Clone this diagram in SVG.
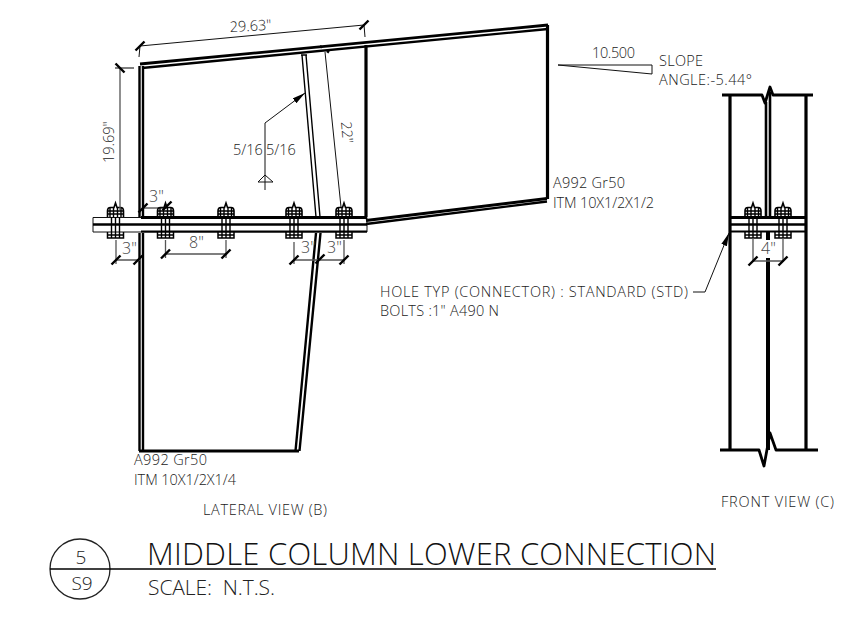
<svg xmlns="http://www.w3.org/2000/svg" width="868" height="620" viewBox="0 0 868 620">
<style>
text{font-family:"Open Sans","Noto Sans","Liberation Sans",sans-serif;font-weight:300;fill:#222;font-size:14.5px}
.d{font-size:16px;fill:#444}
.h{stroke:#000;stroke-width:3.2;fill:none}
.m{stroke:#000;stroke-width:2.400;fill:none}
.t{stroke:#111;stroke-width:1;fill:none}
.g{stroke:#555;stroke-width:1.300;fill:none}
.k{stroke:#000;stroke-width:2.800;fill:none;stroke-linejoin:round}
.p{stroke:#000;stroke-width:2.800;fill:none}
</style>
<defs>
<g id="bolt">
<path d="M-8 217V211Q-8 207.500-5 207.500H-1.500L0 203L1.500 207.500H5Q8 207.500 8 211V217" stroke="#000" stroke-width="1.600" fill="none"/>
<path d="M-8 211H8M-8 214H8M-5.500 208V217M-2 208V217M2 208V217M5.500 208V217M-4 217V238M0 217V238M4 217V238" stroke="#000" stroke-width="1.400" fill="none"/>
<path d="M-8 232V238H8V232M-8 235H8" stroke="#000" stroke-width="1.500" fill="none"/>
</g>
<path id="tick" d="M-4.500 4.500L4.500-4.500" stroke="#000" stroke-width="2.400"/>
<marker id="arrow" markerWidth="14" markerHeight="8" refX="13" refY="3" orient="auto" markerUnits="userSpaceOnUse"><path d="M0 0L13 3L0 6Z" fill="#000"/></marker>
</defs>

<g id="lateral-view">
<path class="m" d="M139.500 66V217M143 66V217M139.500 233V451M143 233V451"/>
<path class="h" d="M139 451H299"/>
<path class="m" d="M295.500 451L316 233M299.500 451L320.500 233"/>
<path class="p" d="M140 64L548 25"/>
<path class="m" d="M142 68L548 29"/>
<path class="h" d="M547.500 25V199"/>
<path class="h" d="M366 45V217"/>
<path class="p" d="M366 220.500L547 198.500"/>
<path class="m" d="M366 224L547 201.500"/>
<path d="M302 55L316 217M306 55L320 217M301 55H307" stroke="#000" stroke-width="1.400" fill="none"/>
<path d="M320 46L322 47.500M327 51L329 52.500" stroke="#000" stroke-width="2.400"/>
</g>
<g id="plate">
<path class="t" d="M93 217.500H367V232H93Z" stroke="#222" stroke-width="1.300"/>
<path d="M141 217.500H367" stroke="#000" stroke-width="3.200"/>
<path d="M93 224.500H367" stroke="#000" stroke-width="2.500"/>
<path d="M141 231.500H367" stroke="#000" stroke-width="2"/>
</g>
<g id="bolts-lateral">
<use href="#bolt" x="115.500"/>
<use href="#bolt" x="165.500"/>
<use href="#bolt" x="226"/>
<use href="#bolt" x="294"/>
<use href="#bolt" x="344"/>
</g>

<g id="front-view">
<path class="k" d="M722 95H762L765 103L770 87L773 95H813"/>
<path class="h" d="M730 95V232M806 95V232M730 232V450M806 232V450"/>
<path d="M766 102V217M770 92V217" stroke="#000" stroke-width="2.600" fill="none"/>
<path d="M768 232V240M768 258V450" stroke="#000" stroke-width="4" fill="none"/>
<path class="k" d="M720 450H759L764 466L770 433L776 450H818"/>
<path d="M730 217.500H806" stroke="#000" stroke-width="3.200"/>
<path d="M730 224.500H806" stroke="#000" stroke-width="2.500"/>
<path d="M730 231.500H806" stroke="#000" stroke-width="2"/>
<use href="#bolt" x="753"/>
<use href="#bolt" x="783"/>
</g>

<g id="connectors">
<path class="t" d="M139 57L140 46L364 25L365 37"/>
<use href="#tick" x="140" y="46"/>
<use href="#tick" x="364" y="25"/>
<path class="g" d="M115 68H134M120 68V210"/>
<use href="#tick" x="120" y="68" transform="rotate(90 120 68)"/>
<path class="t" d="M325 52L341 207"/>
<path class="t" d="M143 208H167"/>
<use href="#tick" x="143" y="208"/>
<use href="#tick" x="167" y="206"/>
<path class="g" d="M116 240V264M116 260H141M165.500 240V258M165.500 254H226M226 240V258M294 242V264M294 260H318M344 240V264M320 260H344"/>
<use href="#tick" x="116" y="260"/>
<use href="#tick" x="138" y="260"/>
<use href="#tick" x="165.500" y="254"/>
<use href="#tick" x="226" y="254"/>
<use href="#tick" x="294" y="260"/>
<use href="#tick" x="320" y="259"/>
<use href="#tick" x="344" y="260"/>
<path class="g" d="M753 238V262M783 238V262M753 261H783"/>
<use href="#tick" x="753" y="261"/>
<use href="#tick" x="783" y="261"/>
<path class="t" d="M265 190V123L305 93" marker-end="url(#arrow)"/>
<path class="t" d="M258 182H273L265 175Z"/>
<path class="t" d="M693 292H705L729 233" marker-end="url(#arrow)"/>
<path class="t" d="M558 65H652V74Z" stroke-width="1.300"/>
</g>

<g id="labels">
<text x="230" y="32" transform="rotate(-3 230 32)">29.63"</text>
<text x="114" y="163" transform="rotate(-90 114 163)">19.69"</text>
<text x="341" y="122" transform="rotate(85 341 122)">22"</text>
<text x="233" y="155">5/16</text>
<text x="266" y="155">5/16</text>
<text class="d" x="149" y="202">3"</text>
<text class="d" x="122" y="254">3"</text>
<text class="d" x="189" y="248">8"</text>
<text class="d" x="301" y="253">3"</text>
<text class="d" x="327" y="253">3"</text>
<text class="d" x="761" y="254">4"</text>
<text x="592" y="58" textLength="43">10.500</text>
<text x="659" y="66" textLength="44">SLOPE</text>
<text x="659" y="85" textLength="93">ANGLE:-5.44°</text>
<text x="553" y="188" textLength="72">A992 Gr50</text>
<text x="553" y="208" textLength="101">ITM 10X1/2X1/2</text>
<text x="380" y="297" textLength="308">HOLE TYP (CONNECTOR) : STANDARD (STD)</text>
<text x="380" y="316" textLength="119">BOLTS :1" A490 N</text>
<text x="134" y="465" textLength="73">A992 Gr50</text>
<text x="134" y="485" textLength="102">ITM 10X1/2X1/4</text>
<text x="203" y="515" textLength="124">LATERAL VIEW (B)</text>
<text x="721" y="507" textLength="113">FRONT VIEW (C)</text>
</g>

<g id="title">
<circle cx="80" cy="569" r="30" fill="none" stroke="#222" stroke-width="1.300"/>
<path d="M50 569H716" stroke="#000" stroke-width="1.300"/>
<text x="81" y="564" text-anchor="middle" style="font-size:19px">5</text>
<text x="82" y="590" text-anchor="middle" style="font-size:19px">S9</text>
<text x="147" y="565" style="font-size:31px;fill:#111" textLength="569">MIDDLE COLUMN LOWER CONNECTION</text>
<text x="148" y="595" style="font-size:21px" textLength="127" xml:space="preserve">SCALE:  N.T.S.</text>
</g>
</svg>
